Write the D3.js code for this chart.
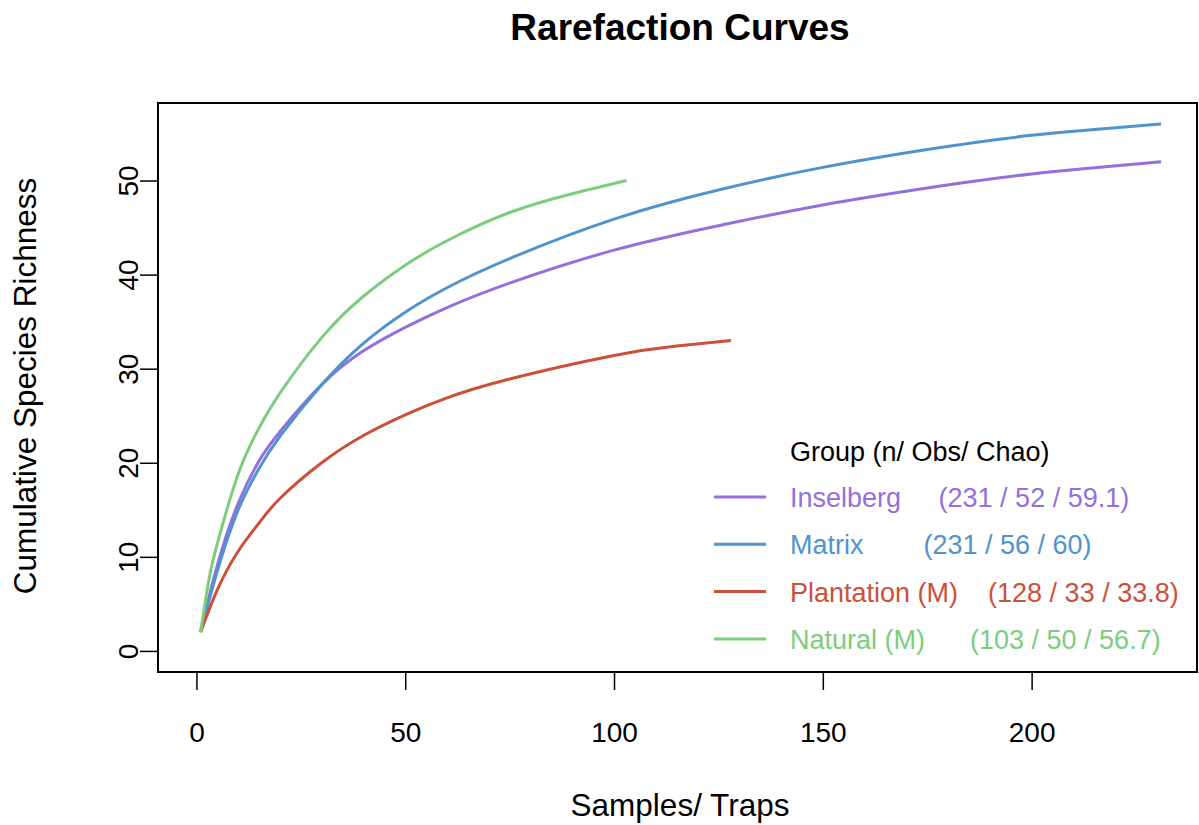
<!DOCTYPE html>
<html>
<head>
<meta charset="utf-8">
<script src="https://cdn.jsdelivr.net/npm/d3@7"></script>
<style>
  body { margin: 0; background: #fff; }
  svg text { font-family: "Liberation Sans", Arial, Helvetica, sans-serif; }
</style>
</head>
<body>
<svg id="chart" width="1199" height="825"></svg>
<script>

// rarefaction curves, values
const groups = ["Inselberg", "Matrix", "Plantation (M)", "Natural (M)"]
const groupStats = ["(231 / 52 / 59.1)", "(231 / 56 / 60)", "(128 / 33 / 33.8)", "(103 / 50 / 56.7)"]
const groupGaps = ["     ", "        ", "    ", "      "]
const colours = ["#9370DB", "#4F94CD", "#CD4F39", "#7CCD7C"]

const inselbergN = [1, 5, 10, 15, 20, 30, 40, 50, 60, 75, 100, 125, 150, 175, 200, 231]
const inselbergS = [2, 9.1, 15.7, 20.2, 23.3, 28.3, 31.9, 34.4, 36.5, 39.1, 42.6, 45.2, 47.4, 49.2, 50.7, 52]

const matrixN = [1, 5, 10, 15, 20, 30, 40, 50, 60, 75, 100, 125, 150, 175, 200, 231]
const matrixS = [2, 8.5, 15.0, 19.4, 22.8, 28.3, 32.7, 36.0, 38.6, 41.7, 45.9, 49.0, 51.4, 53.3, 54.8, 56]

const plantationN = [1, 5, 10, 15, 20, 30, 40, 50, 60, 75, 100, 115, 128]
const plantationS = [2, 6.5, 10.6, 13.6, 16.2, 20.0, 22.9, 25.1, 26.9, 28.9, 31.4, 32.4, 33]

const naturalN = [1, 3, 5, 10, 15, 20, 30, 40, 50, 60, 75, 90, 103]
const naturalS = [2, 7.6, 11.4, 18.8, 23.7, 27.4, 33.3, 37.7, 41.0, 43.6, 46.6, 48.6, 50]

const xTicks = [0, 50, 100, 150, 200]
const yTicks = [0, 10, 20, 30, 40, 50]

const series = [
    { n: inselbergN, s: inselbergS },
    { n: matrixN, s: matrixS },
    { n: plantationN, s: plantationS },
    { n: naturalN, s: naturalS }
]

const box = { left: 158, right: 1197, top: 103, bottom: 672 }

const svg = d3.select('#chart')

const x = d3.scaleLinear().domain([-9.2, 239.6]).range([box.left, box.right])

const y = d3.scaleLinear().domain([-2.24, 58.24]).range([box.bottom, box.top])

// title
svg.append("text")
    .attr("x", 680)
    .attr("y", 40)
    .attr("text-anchor", "middle")
    .attr("font-size", "37px")
    .attr("font-weight", "bold")
    .text("Rarefaction Curves")

// curves
const line = d3.line()
    .x(d => x(d[0]))
    .y(d => y(d[1]))
    .curve(d3.curveNatural)

series.forEach((g, i) => {

    svg.append("path")
        .datum(g.n.map((v, j) => [v, g.s[j]]))
        .attr("d", line)
        .attr("fill", "none")
        .attr("stroke", colours[i])
        .attr("stroke-width", 3)

})

// box
svg.append("rect")
    .attr("x", box.left)
    .attr("y", box.top)
    .attr("width", box.right - box.left)
    .attr("height", box.bottom - box.top)
    .attr("fill", "none")
    .attr("stroke", "#000")
    .attr("stroke-width", 2)

// x axis
const xAxis = svg.append("g")
    .attr("transform", `translate(0,${box.bottom})`)
    .call(d3.axisBottom(x).tickValues(xTicks).tickSize(18))

xAxis.select(".domain").remove()
xAxis.selectAll(".tick line").attr("stroke", "#000").attr("stroke-width", 1.5)
xAxis.selectAll(".tick text")
    .attr("dy", null)
    .attr("y", 70)
    .attr("font-size", "28px")
    .attr("font-family", "Liberation Sans, Arial, sans-serif")
    .attr("fill", "#000")

// y axis
const yAxis = svg.append("g")
    .attr("transform", `translate(${box.left},0)`)
    .call(d3.axisLeft(y).tickValues(yTicks).tickSize(18))

yAxis.select(".domain").remove()
yAxis.selectAll(".tick line").attr("stroke", "#000").attr("stroke-width", 1.5)
yAxis.selectAll(".tick text")
    .attr("x", null)
    .attr("dy", null)
    .attr("transform", "translate(-20,0) rotate(-90)")
    .attr("text-anchor", "middle")
    .attr("font-size", "28px")
    .attr("font-family", "Liberation Sans, Arial, sans-serif")
    .attr("fill", "#000")

// axis titles
svg.append("text")
    .attr("x", 680)
    .attr("y", 816)
    .attr("text-anchor", "middle")
    .attr("font-size", "31.5px")
    .text("Samples/ Traps")

svg.append("text")
    .attr("transform", "translate(36,386) rotate(-90)")
    .attr("text-anchor", "middle")
    .attr("font-size", "31.5px")
    .text("Cumulative Species Richness")

// legend
const legend = svg.append("g").attr("transform", "translate(714,461)")

legend.append("text")
    .attr("x", 76)
    .attr("y", 0)
    .attr("font-size", "27px")
    .text("Group (n/ Obs/ Chao)")

groups.forEach((name, i) => {

    let row = legend.append("g").attr("transform", `translate(0,${36 + i * 47.3})`)

    row.append("line")
        .attr("x1", 0)
        .attr("x2", 52)
        .attr("y1", 0)
        .attr("y2", 0)
        .attr("stroke", colours[i])
        .attr("stroke-width", 3)

    row.append("text")
        .attr("x", 76)
        .attr("y", 10)
        .attr("font-size", "27px")
        .attr("fill", colours[i])
        .style("white-space", "pre")
        .text(name + groupGaps[i] + groupStats[i])

})

</script>
</body>
</html>
